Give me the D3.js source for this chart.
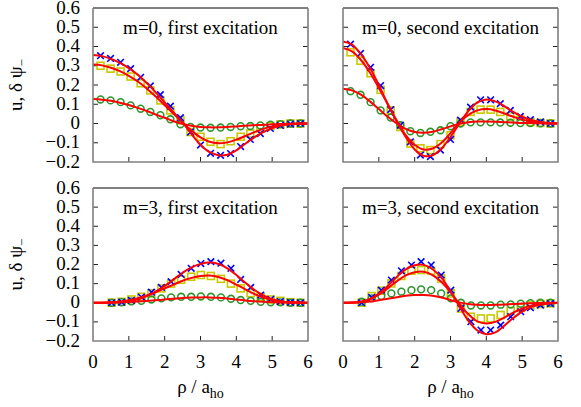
<!DOCTYPE html>
<html><head><meta charset="utf-8">
<script src="https://cdn.jsdelivr.net/npm/d3@7"></script>
<style>body{margin:0;background:#fff}svg{display:block}</style>
</head><body>
<script>
// ---- data ----
const titles = ["m=0, first excitation","m=0, second excitation","m=3, first excitation","m=3, second excitation"];
const xTicks = [0,1,2,3,4,5,6];
const yTicks = [-0.2,-0.1,0,0.1,0.2,0.3,0.4,0.5,0.6];
const yTickLabels = ["\u22120.2","\u22120.1","0","0.1","0.2","0.3","0.4","0.5","0.6"];
// marker positions (rho / a_ho)
const rhoTop = [0.21,0.49,0.77,1.05,1.33,1.60,1.88,2.16,2.44,2.72,3.00,3.28,3.56,3.84,4.12,4.39,4.67,4.95,5.23,5.51,5.79];
const rhoBot = [0.52,0.80,1.07,1.35,1.63,1.91,2.18,2.46,2.74,3.01,3.29,3.57,3.85,4.12,4.40,4.68,4.96,5.23,5.51,5.79];
// line sample positions
const rhoLine = [0,0.25,0.5,0.75,1,1.25,1.5,1.75,2,2.25,2.5,2.75,3,3.25,3.5,3.75,4,4.25,4.5,4.75,5,5.25,5.5,5.75,6];

// panel 1: m=0 first
const p1Blue  = [0.352,0.338,0.318,0.285,0.240,0.195,0.150,0.090,0.030,-0.045,-0.112,-0.155,-0.165,-0.156,-0.120,-0.083,-0.052,-0.026,-0.010,-0.003,0];
const p1Yel   = [0.300,0.285,0.270,0.244,0.209,0.172,0.120,0.068,0.017,-0.044,-0.069,-0.095,-0.107,-0.092,-0.069,-0.052,-0.026,-0.014,-0.005,0,0];
const p1Grn   = [0.125,0.120,0.111,0.094,0.077,0.060,0.043,0.022,-0.004,-0.018,-0.021,-0.022,-0.021,-0.018,-0.014,-0.013,-0.010,-0.006,-0.003,0,0];
const p1BlueL = [0.356,0.350,0.336,0.315,0.288,0.253,0.210,0.162,0.110,0.057,0.005,-0.055,-0.110,-0.148,-0.165,-0.162,-0.140,-0.105,-0.072,-0.045,-0.024,-0.011,-0.004,-0.001,0];
const p1YelL  = [0.306,0.302,0.290,0.272,0.248,0.218,0.182,0.140,0.095,0.050,0.005,-0.037,-0.072,-0.095,-0.103,-0.098,-0.084,-0.065,-0.045,-0.028,-0.015,-0.007,-0.003,-0.001,0];
const p1GrnL  = [0.127,0.124,0.118,0.108,0.096,0.081,0.065,0.047,0.030,0.012,-0.002,-0.012,-0.018,-0.020,-0.020,-0.018,-0.015,-0.012,-0.009,-0.006,-0.004,-0.002,-0.001,0,0];

// panel 2: m=0 second
const p2Blue  = [0.412,0.364,0.292,0.197,0.072,-0.009,-0.095,-0.164,-0.172,-0.138,-0.083,0.017,0.085,0.123,0.123,0.103,0.068,0.037,0.020,0.008,0];
const p2Yel   = [0.370,0.326,0.261,0.175,0.068,-0.018,-0.104,-0.129,-0.138,-0.107,-0.061,0.008,0.060,0.072,0.072,0.060,0.037,0.020,0.008,0.003,0];
const p2Grn   = [0.168,0.149,0.111,0.068,0.031,-0.009,-0.040,-0.049,-0.043,-0.035,-0.014,0,0.006,0.006,0.006,0.005,0.004,0.002,0.002,0.001,0];
const p2BlueL = [0.426,0.410,0.360,0.290,0.200,0.100,0.010,-0.070,-0.135,-0.168,-0.165,-0.130,-0.070,0.000,0.065,0.110,0.125,0.115,0.090,0.060,0.035,0.018,0.008,0.003,0];
const p2YelL  = [0.392,0.375,0.330,0.265,0.185,0.100,0.015,-0.060,-0.110,-0.135,-0.130,-0.100,-0.050,0.005,0.045,0.068,0.075,0.068,0.052,0.035,0.020,0.010,0.004,0.001,0];
const p2GrnL  = [0.180,0.172,0.150,0.115,0.075,0.035,0.000,-0.028,-0.044,-0.048,-0.043,-0.030,-0.015,-0.002,0.006,0.010,0.010,0.009,0.007,0.005,0.003,0.002,0.001,0,0];

// panel 3: m=3 first
const p3Blue  = [0,0.003,0.012,0.030,0.055,0.080,0.110,0.148,0.180,0.205,0.215,0.207,0.180,0.122,0.080,0.040,0.018,0.006,0.002,0];
const p3Yel   = [0,0.005,0.017,0.031,0.049,0.075,0.100,0.120,0.136,0.145,0.140,0.125,0.100,0.075,0.050,0.031,0.017,0.010,0.003,0];
const p3Grn   = [0,0.003,0.007,0.010,0.017,0.023,0.028,0.031,0.031,0.033,0.031,0.028,0.021,0.014,0.010,0.005,0.003,0.002,0,0];
const p3BlueL = [0,0,0.001,0.003,0.008,0.018,0.035,0.058,0.088,0.122,0.157,0.185,0.203,0.210,0.203,0.180,0.145,0.105,0.068,0.038,0.018,0.007,0.002,0.001,0];
const p3YelL  = [0,0,0.002,0.006,0.013,0.024,0.038,0.055,0.075,0.095,0.115,0.130,0.140,0.142,0.135,0.118,0.095,0.070,0.046,0.027,0.014,0.006,0.002,0.001,0];
const p3GrnL  = [0,0,0.001,0.002,0.004,0.006,0.009,0.013,0.017,0.021,0.025,0.027,0.028,0.028,0.026,0.022,0.017,0.012,0.008,0.005,0.003,0.001,0,0,0];

// panel 4: m=3 second
const p4Blue  = [0,0.028,0.066,0.119,0.167,0.197,0.215,0.197,0.145,0.066,-0.030,-0.099,-0.143,-0.143,-0.117,-0.073,-0.047,-0.026,-0.012,-0.004];
const p4Yel   = [0,0.035,0.063,0.101,0.140,0.167,0.171,0.167,0.127,0.049,-0.030,-0.073,-0.082,-0.082,-0.064,-0.043,-0.026,-0.014,-0.007,-0.003];
const p4Grn   = [0.005,0.023,0.035,0.049,0.058,0.066,0.070,0.066,0.049,0.023,0,-0.014,-0.014,-0.014,-0.010,-0.009,-0.005,-0.002,0,0];
const p4BlueL = [0,0.001,0.005,0.020,0.048,0.088,0.135,0.175,0.196,0.198,0.175,0.130,0.060,-0.020,-0.095,-0.145,-0.165,-0.155,-0.120,-0.080,-0.046,-0.023,-0.010,-0.004,-0.001];
const p4YelL  = [0,0.001,0.005,0.018,0.042,0.075,0.112,0.143,0.160,0.162,0.145,0.108,0.055,-0.005,-0.060,-0.097,-0.108,-0.100,-0.078,-0.052,-0.030,-0.015,-0.007,-0.002,0];
const p4GrnL  = [0,0,0.002,0.006,0.013,0.021,0.029,0.036,0.040,0.040,0.036,0.027,0.014,0.002,-0.007,-0.011,-0.012,-0.011,-0.009,-0.006,-0.004,-0.002,-0.001,0,0];

const panels = [
  {title:titles[0], rho:rhoTop, blue:p1Blue, yel:p1Yel, grn:p1Grn, lines:[p1BlueL,p1YelL,p1GrnL]},
  {title:titles[1], rho:rhoTop, blue:p2Blue, yel:p2Yel, grn:p2Grn, lines:[p2BlueL,p2YelL,p2GrnL]},
  {title:titles[2], rho:rhoBot, blue:p3Blue, yel:p3Yel, grn:p3Grn, lines:[p3BlueL,p3YelL,p3GrnL]},
  {title:titles[3], rho:rhoBot, blue:p4Blue, yel:p4Yel, grn:p4Grn, lines:[p4BlueL,p4YelL,p4GrnL]}
];

// ---- layout ----
const W=581,H=407;
const lefts=[93,343], pw=215;
const rows=[{top:8,bottom:162},{top:188,bottom:341}];
const FS=19;
const FONT="'Liberation Serif'";

const svg=d3.select("body").append("svg").attr("width",W).attr("height",H);

function txt(g){ return g.append("text").style("font-family",FONT).attr("fill","#000"); }

panels.forEach((p,i)=>{
  const col=i%2,row=Math.floor(i/2);
  const L=lefts[col],R=L+pw,T=rows[row].top,B=rows[row].bottom;
  const x=d3.scaleLinear().domain([0,6]).range([L,R]);
  const y=d3.scaleLinear().domain([-0.2,0.6]).range([B,T]);
  const g=svg.append("g");

  // ticks
  const tk="#222";
  yTicks.forEach(v=>{
    if(v>-0.2&&v<0.6){
      g.append("line").attr("x1",L).attr("x2",L+5).attr("y1",y(v)).attr("y2",y(v)).attr("stroke",tk).attr("stroke-width",1);
      g.append("line").attr("x1",R-5).attr("x2",R).attr("y1",y(v)).attr("y2",y(v)).attr("stroke",tk).attr("stroke-width",1);
    }
  });
  xTicks.forEach(v=>{
    if(v>0&&v<6) g.append("line").attr("x1",x(v)).attr("x2",x(v)).attr("y1",B).attr("y2",B-5).attr("stroke",tk).attr("stroke-width",1);
  });

  // markers
  const yl=p.yel.map((v,k)=>({r:p.rho[k],v}));
  g.selectAll(".sq").data(yl).enter().append("rect")
    .attr("x",d=>x(d.r)-3.5).attr("y",d=>y(d.v)-3.5).attr("width",7).attr("height",7)
    .attr("fill","none").attr("stroke","#c9c900").attr("stroke-width",1.6);
  const gr=p.grn.map((v,k)=>({r:p.rho[k],v}));
  g.selectAll(".ci").data(gr).enter().append("circle")
    .attr("cx",d=>x(d.r)).attr("cy",d=>y(d.v)).attr("r",3.4)
    .attr("fill","none").attr("stroke","#2f962f").attr("stroke-width",1.6);
  const bl=p.blue.map((v,k)=>({r:p.rho[k],v}));
  const s=3.3;
  g.selectAll(".cx").data(bl).enter().append("path")
    .attr("d",d=>`M${x(d.r)-s},${y(d.v)-s}L${x(d.r)+s},${y(d.v)+s}M${x(d.r)-s},${y(d.v)+s}L${x(d.r)+s},${y(d.v)-s}`)
    .attr("stroke","#0000ff").attr("stroke-width",1.6).attr("fill","none");

  // lines
  const line=d3.line().x((d,k)=>x(rhoLine[k])).y(d=>y(d)).curve(d3.curveCatmullRom.alpha(0.5));
  p.lines.forEach(arr=>{
    g.append("path").attr("d",line(arr)).attr("fill","none").attr("stroke","#ff0000").attr("stroke-width",2);
  });

  // frame
  g.append("line").attr("x1",L).attr("x2",R).attr("y1",T).attr("y2",T).attr("stroke","#000").attr("stroke-width",1);
  g.append("path").attr("d",`M${L},${T}V${B}H${R}V${T}`).attr("fill","none").attr("stroke","#808080").attr("stroke-width",1.6);

  // title
  txt(g).attr("x",(L+R)/2).attr("y",T+26).attr("text-anchor","middle").attr("font-size",FS).text(p.title);

  // y tick labels (left column only)
  if(col===0){
    yTicks.forEach((v,k)=>{
      txt(g).attr("x",80).attr("y",y(v)+5.5).attr("text-anchor","end").attr("font-size",FS).text(yTickLabels[k]);
    });
    const yc=(T+B)/2;
    const t=txt(g).attr("transform",`translate(22,${yc}) rotate(-90)`).attr("text-anchor","middle").attr("font-size",FS);
    t.append("tspan").text("u, \u03b4 \u03c8");
    t.append("tspan").attr("font-size",13).attr("dy",4).text("\u2212");
  }
  // x tick labels (bottom row)
  if(row===1){
    xTicks.forEach(v=>{
      txt(g).attr("x",x(v)).attr("y",B+27).attr("text-anchor","middle").attr("font-size",FS).text(v);
    });
    const t=txt(g).attr("x",(L+R)/2).attr("y",B+52).attr("text-anchor","middle").attr("font-size",FS);
    t.append("tspan").text("\u03c1 / a");
    t.append("tspan").attr("font-size",14).attr("dy",5).text("ho");
  }
});
</script>
</body></html>
